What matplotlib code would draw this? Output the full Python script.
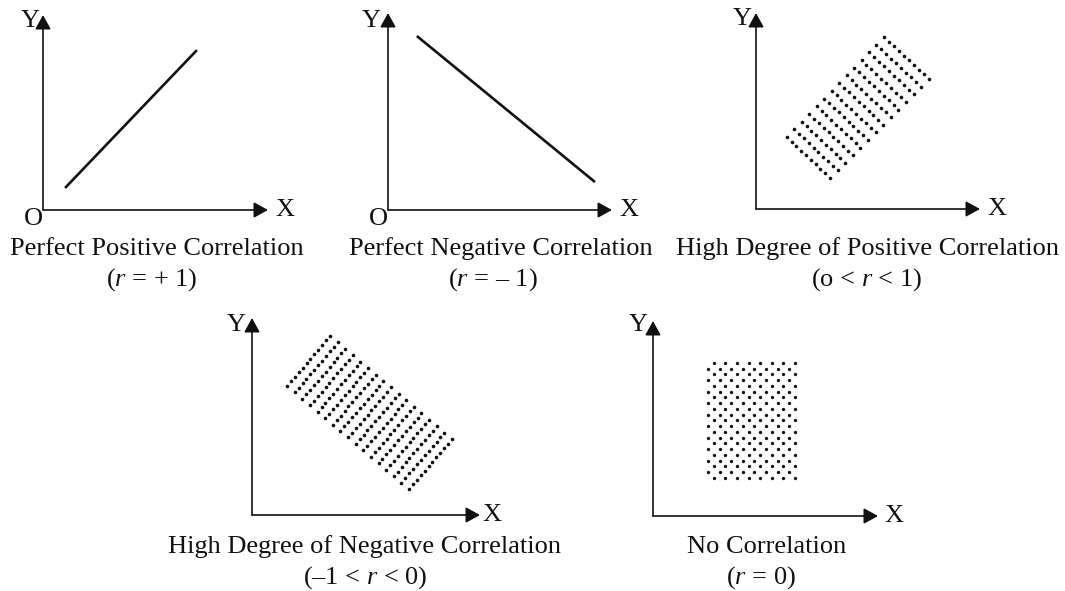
import numpy as np
import matplotlib
matplotlib.use("Agg")
import matplotlib.pyplot as plt

plt.rcParams['font.family'] = ['Liberation Serif', 'DejaVu Serif']
plt.rcParams['mathtext.fontset'] = 'custom'
plt.rcParams['mathtext.rm'] = 'Liberation Serif'
plt.rcParams['mathtext.it'] = 'Liberation Serif:italic'

W, H = 1065, 591

# ---- data (panel units: each axis runs 0..10) ----
pos_line_x = [0.98, 6.84]
pos_line_y = [1.13, 8.20]
neg_line_x = [1.29, 9.24]
neg_line_y = [8.83, 1.42]

# high positive band: first line end points, last line end points
hp_first = [(1.38, 3.67), (3.30, 1.58)]
hp_last = [(5.71, 8.78), (7.72, 6.63)]
hp_nlines, hp_ndots = 14, 10

# high negative band
hn_first = [(1.54, 6.55), (3.42, 9.09)]
hn_last = [(6.89, 1.32), (8.77, 3.86)]
hn_nlines, hn_ndots = 17, 12

# no correlation block
nc_x = [2.44, 6.31]
nc_y = [1.95, 7.85]
nc_rows, nc_cols = 21, 8

captions = ["Perfect Positive Correlation", "Perfect Negative Correlation",
            "High Degree of Positive Correlation",
            "High Degree of Negative Correlation", "No Correlation"]
subcaps = ["($r$ = + 1)", "($r$ = \u2013 1)", "(o < $r$ < 1)",
           "(\u20131 < $r$ < 0)", "($r$ = 0)"]

# ---- layout (pixels) ----
# origin x, origin y, x-tip, y-tip
panels = [(43, 210, 268, 15), (388, 210, 612, 13), (756, 209, 980, 13),
          (252, 515, 480, 318), (653, 516, 878, 321)]
ylab = [(30, 21), (371, 21), (742, 19), (236, 325), (638, 325)]
xlab = [(285, 210), (629, 210), (997, 209), (492, 515), (894, 516)]
olab = [(33, 219), (378, 219), None, None, None]
cap_pos = [(157, 255), (501, 255), (867, 255), (365, 553), (767, 553)]
sub_pos = [(152, 286), (493, 286), (867, 286), (365, 584), (761, 584)]

FS = 19
fig = plt.figure(figsize=(W / 100, H / 100), dpi=100)
fig.patch.set_facecolor('white')

axes = []
for (ox, oy, tx, ty) in panels:
    ax = fig.add_axes([ox / W, (H - oy) / H, (tx - ox) / W, (oy - ty) / H])
    ax.set_xlim(0, 10)
    ax.set_ylim(0, 10)
    ax.axis('off')
    aprops = dict(arrowstyle='-|>,head_length=0.4,head_width=0.22',
                  mutation_scale=21.5, lw=1.2, color='#111111',
                  shrinkA=0, shrinkB=0)
    ax.annotate('', xy=(10, 0), xytext=(0, 0), arrowprops=aprops,
                annotation_clip=False)
    ax.annotate('', xy=(0, 10), xytext=(0, 0), arrowprops=aprops,
                annotation_clip=False)
    axes.append(ax)

axes[0].plot(pos_line_x, pos_line_y, color='#111111', lw=1.9,
             solid_capstyle='butt')
axes[1].plot(neg_line_x, neg_line_y, color='#111111', lw=1.9,
             solid_capstyle='butt')


def band(ax, first, last, nl, nd, ms):
    f0, f1 = np.array(first[0]), np.array(first[1])
    l0, l1 = np.array(last[0]), np.array(last[1])
    xs, ys = [], []
    for k in range(nl):
        t = k / (nl - 1)
        s = f0 + t * (l0 - f0)
        e = f1 + t * (l1 - f1)
        for j in range(nd):
            u = j / (nd - 1)
            p = s + u * (e - s)
            xs.append(p[0])
            ys.append(p[1])
    ax.plot(xs, ys, 'o', color='#111111', ms=ms, mew=0, clip_on=False)


band(axes[2], hp_first, hp_last, hp_nlines, hp_ndots, 2.6)
band(axes[3], hn_first, hn_last, hn_nlines, hn_ndots, 2.6)

# no-correlation staggered grid
xs, ys = [], []
dx = (nc_x[1] - nc_x[0]) / (nc_cols - 0.5)
for r in range(nc_rows):
    y = nc_y[1] - r * (nc_y[1] - nc_y[0]) / (nc_rows - 1)
    off = 0.0 if r % 2 else dx / 2
    for c in range(nc_cols):
        xs.append(nc_x[0] + off + c * dx)
        ys.append(y)
axes[4].plot(xs, ys, 'o', color='#111111', ms=2.4, mew=0, clip_on=False)


def ftext(px, py, s, **kw):
    fig.text(px / W, 1 - py / H, s, fontsize=FS, color='#111111', **kw)


for i in range(5):
    ftext(*ylab[i], "Y", ha='center', va='center')
    ftext(*xlab[i], "X", ha='center', va='center')
    if olab[i] is not None:
        ftext(*olab[i], "O", ha='center', va='center')
    ftext(*cap_pos[i], captions[i], ha='center', va='baseline')
    ftext(*sub_pos[i], subcaps[i], ha='center', va='baseline')

fig.savefig('out.png', dpi=100, facecolor='white')
